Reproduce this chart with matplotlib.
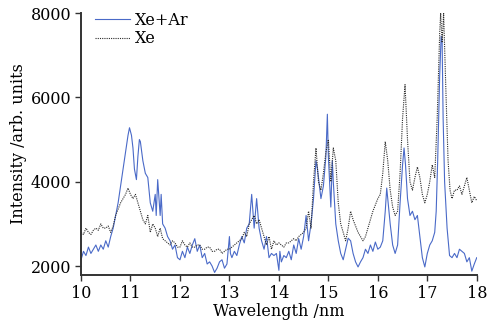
import matplotlib
matplotlib.use("Agg")
import matplotlib.pyplot as plt

# Xe+Ar mixture spectrum (wavelength in nm, intensity in arb. units)
xe_ar_wl = [
    10.0, 10.05, 10.1, 10.15, 10.2, 10.25, 10.3, 10.35, 10.4, 10.45, 10.5, 10.55,
    10.6, 10.65, 10.7, 10.75, 10.8, 10.85, 10.9, 10.95, 10.98, 11.02, 11.05, 11.08,
    11.12, 11.15, 11.18, 11.2, 11.25, 11.3, 11.35, 11.4, 11.45, 11.5, 11.52, 11.55,
    11.6, 11.62, 11.65, 11.7, 11.75, 11.8, 11.85, 11.9, 11.95, 12.0, 12.05, 12.1,
    12.15, 12.2, 12.25, 12.3, 12.35, 12.4, 12.45, 12.5, 12.55, 12.6, 12.65, 12.7,
    12.75, 12.8, 12.85, 12.9, 12.95, 13.0, 13.02, 13.05, 13.1, 13.15, 13.2, 13.25,
    13.3, 13.35, 13.4, 13.45, 13.48, 13.5, 13.55, 13.6, 13.65, 13.7, 13.75, 13.8,
    13.85, 13.9, 13.95, 14.0, 14.02, 14.05, 14.1, 14.15, 14.2, 14.25, 14.3, 14.35,
    14.4, 14.45, 14.5, 14.55, 14.6, 14.65, 14.7, 14.75, 14.78, 14.8, 14.85, 14.9,
    14.95, 14.98, 15.0, 15.05, 15.08, 15.1, 15.15, 15.2, 15.25, 15.3, 15.35, 15.4,
    15.45, 15.5, 15.55, 15.6, 15.65, 15.7, 15.75, 15.8, 15.85, 15.9, 15.95, 16.0,
    16.05, 16.1, 16.15, 16.18, 16.2, 16.25, 16.3, 16.35, 16.4, 16.45, 16.5, 16.53,
    16.56, 16.6, 16.65, 16.7, 16.75, 16.8, 16.85, 16.9, 16.95, 17.0, 17.05, 17.1,
    17.15, 17.18, 17.21, 17.25, 17.28, 17.3, 17.32, 17.35, 17.4, 17.45, 17.5, 17.55,
    17.6, 17.65, 17.7, 17.75, 17.8, 17.85, 17.9, 17.95, 18.0,
]
xe_ar_int = [
    2150, 2350, 2250, 2450, 2300, 2400, 2500, 2350, 2500, 2400, 2600, 2450,
    2700, 2900, 3200, 3500, 3900, 4300, 4700, 5100, 5280, 5100, 4800, 4300,
    4050, 4600, 5000, 4950, 4500, 4200, 4100, 3500, 3300, 3700, 3200, 4050,
    3200, 3700, 3000, 2900, 2700, 2600, 2400, 2500, 2200, 2150, 2350, 2200,
    2450, 2300, 2500, 2650, 2350, 2500, 2200, 2300, 2050, 2100, 2000, 1850,
    1950, 2100, 2150, 1950, 2050, 2700, 2300, 2200, 2350, 2250, 2500, 2700,
    2550, 2900, 3000, 3700, 3200, 2900, 3600, 2900, 2600, 2400, 2700, 2200,
    2300, 2250, 2300, 1900, 2350, 2100, 2250, 2200, 2350, 2150, 2500, 2300,
    2650, 2400, 2700, 3200, 2600, 3000, 3600, 4500, 4300, 4100, 3600, 3900,
    4600, 5600, 4600, 3400, 4500, 4000, 3000, 2600, 2300, 2150, 2400, 2660,
    2600, 2300, 2100, 1980, 2100, 2200, 2400, 2300, 2500, 2350, 2570, 2400,
    2450, 2600, 3300, 3850, 3600, 3000, 2500, 2300, 2500, 3500, 4400, 4800,
    4400, 3600, 3200, 3300, 3100, 3200, 2700, 2200, 1980, 2300, 2500, 2600,
    2800, 3300, 4500, 6500, 7450, 7300, 5500, 4000, 2900, 2250, 2200, 2300,
    2200, 2400, 2350, 2300, 2100, 2200, 1880, 2050, 2200,
]

# Pure Xe spectrum
xe_wl = [
    10.0, 10.05, 10.1, 10.15, 10.2, 10.25, 10.3, 10.35, 10.4, 10.45, 10.5, 10.55,
    10.6, 10.65, 10.7, 10.75, 10.8, 10.85, 10.9, 10.95, 11.0, 11.05, 11.1, 11.15,
    11.2, 11.25, 11.3, 11.35, 11.4, 11.45, 11.5, 11.55, 11.6, 11.65, 11.7, 11.75,
    11.8, 11.85, 11.9, 11.95, 12.0, 12.05, 12.1, 12.15, 12.2, 12.25, 12.3, 12.35,
    12.4, 12.45, 12.5, 12.55, 12.6, 12.65, 12.7, 12.75, 12.8, 12.85, 12.9, 12.95,
    13.0, 13.05, 13.1, 13.15, 13.2, 13.25, 13.3, 13.35, 13.4, 13.45, 13.5, 13.55,
    13.6, 13.65, 13.7, 13.75, 13.8, 13.85, 13.9, 13.95, 14.0, 14.05, 14.1, 14.15,
    14.2, 14.25, 14.3, 14.35, 14.4, 14.45, 14.5, 14.55, 14.6, 14.65, 14.7, 14.75,
    14.8, 14.85, 14.9, 14.95, 15.0, 15.05, 15.1, 15.15, 15.2, 15.25, 15.3, 15.35,
    15.4, 15.45, 15.5, 15.55, 15.6, 15.65, 15.7, 15.75, 15.8, 15.85, 15.9, 15.95,
    16.0, 16.05, 16.1, 16.15, 16.2, 16.25, 16.3, 16.35, 16.4, 16.45, 16.5, 16.55,
    16.6, 16.65, 16.7, 16.75, 16.8, 16.85, 16.9, 16.95, 17.0, 17.05, 17.1, 17.15,
    17.2, 17.25, 17.27, 17.3, 17.33, 17.38, 17.42, 17.46, 17.5, 17.55, 17.6, 17.65,
    17.7, 17.75, 17.8, 17.85, 17.9, 17.95, 18.0,
]
xe_int = [
    2800, 2750, 2900, 2800, 2750, 2850, 2900, 2850, 3000, 2900, 2900, 2950,
    2800, 2950, 3200, 3350, 3500, 3600, 3700, 3850, 3700, 3600, 3700, 3500,
    3300, 3100, 3000, 3200, 2800, 3000, 2900, 2700, 2900, 2650, 2600, 2550,
    2500, 2600, 2550, 2450, 2450, 2600, 2500, 2450, 2550, 2450, 2450, 2500,
    2500, 2400, 2400, 2450, 2450, 2350, 2350, 2400, 2400, 2300, 2350, 2400,
    2400, 2450, 2500, 2550, 2600, 2650, 2800, 2700, 3000, 3100, 3200, 3000,
    3100, 2900, 2700, 2500, 2700, 2400, 2600, 2500, 2550, 2500, 2450, 2550,
    2550, 2600, 2650, 2600, 2700, 2750, 2800, 2900, 3300, 2900, 4000, 4800,
    4000, 3800, 4200, 4700, 5000, 4000, 4800, 4500, 3500, 3000, 2800, 2600,
    2900, 3300, 3100, 2950, 2800, 2700, 2600, 2700, 2900, 3100, 3300, 3450,
    3600, 3700, 4200, 4950, 4500, 3800, 3400, 3200, 3300, 4200, 5500, 6300,
    5000, 4000, 3800, 4100, 4350, 4100, 3700, 3500, 3700, 4000, 4400, 4100,
    5500, 7500, 8000, 7300, 8000, 6000, 4500, 3800, 3600, 3800, 3800, 3900,
    3700, 3900, 4100, 3800, 3500, 3650, 3550,
]

plt.rcParams["font.family"] = ["DejaVu Serif"]
plt.rcParams["font.size"] = 11.5

fig = plt.figure(figsize=(4.91, 3.25), dpi=100)
ax = fig.add_axes([0.165, 0.154, 0.806, 0.806])

ax.plot(xe_ar_wl, xe_ar_int, color="#4a6ac8", lw=0.8, label="Xe+Ar")
ax.plot(xe_wl, xe_int, color="#2a2a2a", lw=0.8, linestyle=(0, (1, 1)), label="Xe")

ax.set_xlim(10, 18)
ax.set_ylim(1790, 8000)
ax.set_xticks(range(10, 19))
ax.set_yticks([2000, 4000, 6000, 8000])
ax.set_xlabel("Wavelength /nm", labelpad=1)
ax.set_ylabel("Intensity /arb. units", labelpad=3)

for side in ("top", "right"):
    ax.spines[side].set_visible(False)
for side in ("left", "bottom"):
    ax.spines[side].set_linewidth(1.4)
    ax.spines[side].set_color("#333333")
ax.tick_params(direction="out", length=4, width=1, color="#333333", pad=3)

ax.legend(loc="upper left", bbox_to_anchor=(0.02, 1.03), frameon=False,
          handlelength=2.2, handletextpad=0.3, labelspacing=0.1, borderaxespad=0)

fig.savefig("out.png", dpi=100)
